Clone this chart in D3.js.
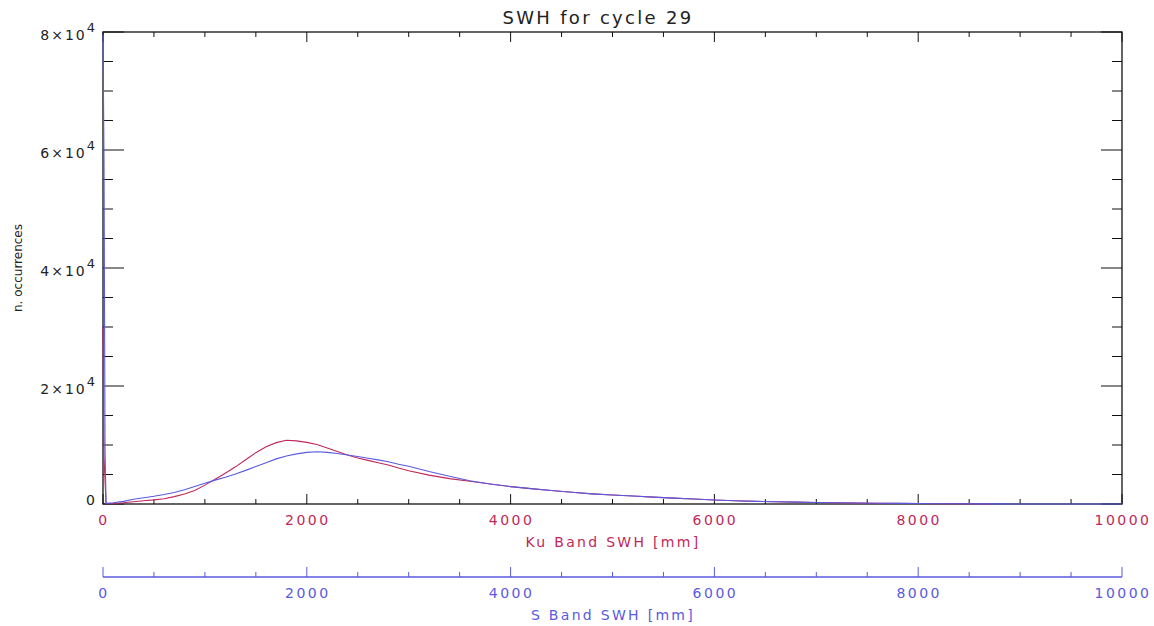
<!DOCTYPE html>
<html>
<head>
<meta charset="utf-8">
<script src="https://cdn.jsdelivr.net/npm/d3@7"></script>
<style>
  body { margin: 0; background: #fff; }
  svg { display: block; }
  text { font-family: "DejaVu Sans", sans-serif; }
</style>
</head>
<body>
<svg id="chart" width="1154" height="626"></svg>
<script>
// Ku band histogram (mm -> occurrences)
const kuSWH = [0, 10, 30, 100, 200, 300, 400, 500, 600, 700, 800, 900, 1000, 1100, 1200, 1300, 1400, 1500, 1600, 1700, 1800, 1900,
  2000, 2100, 2200, 2300, 2400, 2500, 2600, 2700, 2800, 2900, 3000, 3200, 3400, 3600, 3800, 4000, 4200, 4400, 4600, 4800,
  5000, 5200, 5400, 5600, 5800, 6000, 6200, 6400, 6600, 6800, 7000, 7200, 7400, 7600, 7800, 8000, 8200, 8400, 8600, 8700];
const kuCount = [30000, 8000, 50, 60, 200, 390, 550, 700, 900, 1250, 1700, 2300, 3200, 4200, 5200, 6300, 7500, 8700, 9700, 10400, 10800, 10700,
  10450, 10100, 9500, 8900, 8300, 7800, 7400, 7000, 6600, 6100, 5650, 4900, 4300, 3850, 3400, 2950, 2600, 2300, 1980, 1720,
  1520, 1360, 1170, 1000, 840, 680, 560, 450, 370, 310, 260, 220, 170, 130, 100, 75, 55, 40, 25, 0];

// S band histogram
const sSWH = [0, 10, 20, 30, 100, 200, 300, 400, 500, 600, 700, 800, 900, 1000, 1100, 1200, 1300, 1400, 1500, 1600, 1700, 1800, 1900,
  2000, 2100, 2200, 2300, 2400, 2500, 2600, 2700, 2800, 2900, 3000, 3200, 3400, 3600, 3800, 4000, 4200, 4400, 4600, 4800,
  5000, 5200, 5400, 5600, 5800, 6000, 6200, 6400, 6600, 6800, 7000, 7200, 7400, 7600, 7800, 8000, 8200, 8400, 8600, 8800, 9000, 10000];
const sCount = [79500, 58000, 9000, 100, 200, 450, 800, 1050, 1300, 1600, 1950, 2400, 2950, 3500, 4050, 4550, 5100, 5700, 6350, 7000, 7650, 8150, 8500,
  8750, 8850, 8750, 8550, 8300, 8050, 7750, 7480, 7150, 6750, 6400, 5500, 4700, 3950, 3400, 2950, 2600, 2300, 1980, 1720,
  1520, 1360, 1170, 1000, 840, 680, 560, 450, 370, 310, 260, 220, 170, 130, 100, 75, 55, 40, 25, 15, 0, 0];

const yMajor = [0, 20000, 40000, 60000, 80000];
const xMajor = [0, 2000, 4000, 6000, 8000, 10000];

const title = "SWH for cycle 29";
const kuLabel = "Ku Band SWH [mm]";
const sLabel = "S Band SWH [mm]";
const yLabel = "n. occurrences";

const red = "#c0285a";
const blue = "#5a5ae0";

const svg = d3.select("#chart");
const plotLeft = 103, plotRight = 1122, plotTop = 32, plotBottom = 504;
const sAxisY = 577;

const x = d3.scaleLinear().domain([0, 10000]).range([plotLeft, plotRight]);
const xS = d3.scaleLinear().domain([0, 10000]).range([plotLeft, plotRight]);
const y = d3.scaleLinear().domain([0, 80000]).range([plotBottom, plotTop]);

const minorX = d3.range(0, 10001, 500);
const minorY = d3.range(0, 80001, 5000);

const g = svg.append("g");

// frame
g.append("rect")
  .attr("x", plotLeft).attr("y", plotTop)
  .attr("width", plotRight - plotLeft).attr("height", plotBottom - plotTop)
  .attr("fill", "none").attr("stroke", "#111").attr("stroke-width", 1.3);

// x ticks (bottom up, top down)
minorX.forEach(v => {
  const len = v % 2000 === 0 ? 10 : 5;
  g.append("line").attr("x1", x(v)).attr("x2", x(v)).attr("y1", plotBottom).attr("y2", plotBottom - len).attr("stroke", "#111");
  g.append("line").attr("x1", x(v)).attr("x2", x(v)).attr("y1", plotTop).attr("y2", plotTop + len).attr("stroke", "#111");
});

// y ticks (left and right, inward)
minorY.forEach(v => {
  const len = v % 20000 === 0 ? 21 : 10;
  g.append("line").attr("x1", plotLeft).attr("x2", plotLeft + len).attr("y1", y(v)).attr("y2", y(v)).attr("stroke", "#111");
  g.append("line").attr("x1", plotRight).attr("x2", plotRight - len).attr("y1", y(v)).attr("y2", y(v)).attr("stroke", "#111");
});

// y tick labels
yMajor.forEach(v => {
  const t = g.append("text")
    .attr("x", 97)
    .attr("y", y(v) + (v === 0 ? 1 : 8))
    .attr("text-anchor", "end")
    .attr("font-size", 14)
    .attr("letter-spacing", 2)
    .attr("fill", "#222");
  if (v === 0) {
    t.text("0");
  } else {
    t.append("tspan").text(`${v / 10000}×10`);
    t.append("tspan").attr("dy", -8).attr("font-size", 13).text("4");
  }
});

// Ku x labels
g.selectAll(".kuTick")
  .data(xMajor)
  .join("text")
  .attr("x", d => x(d) + 1)
  .attr("y", 525)
  .attr("text-anchor", "middle")
  .attr("font-size", 14)
  .attr("letter-spacing", 2.5)
  .attr("fill", red)
  .text(d => d);

g.append("text")
  .attr("x", 613).attr("y", 547)
  .attr("text-anchor", "middle")
  .attr("font-size", 14)
  .attr("letter-spacing", 2.3)
  .attr("fill", red)
  .text(kuLabel);

// S band axis
g.append("line")
  .attr("x1", xS(0)).attr("x2", xS(10000))
  .attr("y1", sAxisY).attr("y2", sAxisY)
  .attr("stroke", blue).attr("stroke-width", 1.3);

minorX.forEach(v => {
  const len = v % 2000 === 0 ? 10 : 5;
  g.append("line").attr("x1", xS(v)).attr("x2", xS(v)).attr("y1", sAxisY).attr("y2", sAxisY - len).attr("stroke", blue);
});

g.selectAll(".sTick")
  .data(xMajor)
  .join("text")
  .attr("x", d => xS(d) + 1)
  .attr("y", 598)
  .attr("text-anchor", "middle")
  .attr("font-size", 14)
  .attr("letter-spacing", 2.5)
  .attr("fill", blue)
  .text(d => d);

g.append("text")
  .attr("x", 613).attr("y", 620)
  .attr("text-anchor", "middle")
  .attr("font-size", 14)
  .attr("letter-spacing", 2.3)
  .attr("fill", blue)
  .text(sLabel);

// title
g.append("text")
  .attr("x", 598).attr("y", 24)
  .attr("text-anchor", "middle")
  .attr("font-size", 18)
  .attr("letter-spacing", 2.3)
  .attr("fill", "#222")
  .text(title);

// y label
g.append("text")
  .attr("transform", "translate(22,268) rotate(-90)")
  .attr("text-anchor", "middle")
  .attr("font-size", 12)
  .attr("fill", "#222")
  .text(yLabel);

// curves
const kuLine = d3.line()
  .x((d, i) => x(kuSWH[i]))
  .y(d => y(d));
const sLine = d3.line()
  .x((d, i) => xS(sSWH[i]))
  .y(d => y(d));

g.append("path")
  .attr("d", kuLine(kuCount))
  .attr("fill", "none")
  .attr("stroke", red)
  .attr("stroke-width", 1.1);

g.append("path")
  .attr("d", sLine(sCount))
  .attr("fill", "none")
  .attr("stroke", blue)
  .attr("stroke-width", 1.1);
</script>
</body>
</html>
